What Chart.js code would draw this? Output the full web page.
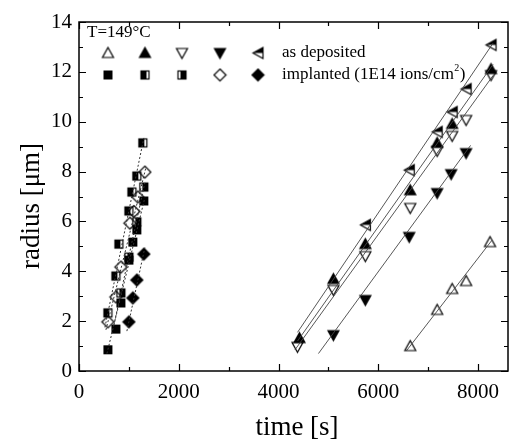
<!DOCTYPE html>
<html>
<head>
<meta charset="utf-8">
<script src="https://cdn.jsdelivr.net/npm/chart.js@4"></script>
<style>
html, body { margin: 0; background: #fff; }
#wrap { width: 509px; height: 446px; }
</style>
</head>
<body>
<div id="wrap"><canvas id="chart"></canvas></div>
<script>
// ==================== Data ====================
// as deposited
const depTriUpX = [6640, 7180, 7480, 7760, 8240];
const depTriUpY = [1.0, 2.45, 3.29, 3.61, 5.17];
const depTriUpFillX = [4420, 5100, 5740, 6640, 7180, 7480, 8260];
const depTriUpFillY = [1.32, 3.69, 5.09, 7.25, 9.15, 9.91, 12.11];
const depTriDownX = [4380, 5100, 5740, 6640, 7180, 7480, 7760, 8260];
const depTriDownY = [0.97, 3.25, 4.61, 6.54, 8.83, 9.43, 10.07, 11.87];
const depTriDownFillX = [5100, 5740, 6620, 7180, 7460, 7760];
const depTriDownFillY = [1.44, 2.85, 5.38, 7.14, 7.9, 8.74];
const depTriLeftX = [5740, 6620, 7180, 7480, 7760, 8260];
const depTriLeftY = [5.86, 8.06, 9.59, 10.39, 11.31, 13.08];

// implanted (1E14 ions/cm2)
const impSqX = [580, 740, 840, 1000, 1080, 1160, 1300];
const impSqY = [0.85, 1.68, 2.73, 4.45, 5.17, 5.66, 6.82];
const impHalfAX = [580, 740, 800, 1000, 1060, 1160, 1280];
const impHalfAY = [2.33, 3.81, 5.09, 6.42, 7.18, 7.82, 9.15];
const impHalfBX = [840, 1000, 1160, 1300];
const impHalfBY = [3.13, 4.57, 5.98, 7.38];
const impDiaX = [580, 740, 840, 1020, 1100, 1180, 1320];
const impDiaY = [1.97, 2.97, 4.17, 5.93, 6.4, 6.98, 7.98];
const impDiaFillX = [1000, 1080, 1160, 1300];
const impDiaFillY = [1.97, 2.93, 3.65, 4.69];

// fit lines (end points)
const fitTriUpX = [6560, 8280], fitTriUpY = [0.8, 5.25];
const fitTriUpFillX = [4380, 8300], fitTriUpFillY = [1.2, 12.3];
const fitTriDownX = [4330, 8300], fitTriDownY = [0.85, 11.85];
const fitTriDownFillX = [4800, 7850], fitTriDownFillY = [0.7, 9.05];
const fitTriLeftX = [4380, 8300], fitTriLeftY = [1.55, 13.15];
const fitSqX = [560, 1320], fitSqY = [0.7, 6.95];
const fitHalfAX = [520, 1300], fitHalfAY = [1.75, 9.35];
const fitHalfBX = [700, 1320], fitHalfBY = [1.85, 7.55];
const fitDiaX = [540, 1340], fitDiaY = [1.65, 8.15];
const fitDiaFillX = [960, 1320], fitDiaFillY = [1.6, 4.95];

const xTicks = [0, 2000, 4000, 6000, 8000];
const yTicks = [0, 2, 4, 6, 8, 10, 12, 14];

const FONT = '"Liberation Serif", "Times New Roman", serif';

// ==================== Markers ====================
function makeMarker(kind) {
    const s = 15, c = document.createElement('canvas');
    c.width = s; c.height = s;
    const g = c.getContext('2d');
    const m = 7.5;
    g.lineWidth = 1.2;
    g.strokeStyle = '#000';
    g.fillStyle = '#000';
    const poly = pts => { g.beginPath(); pts.forEach((p, i) => i ? g.lineTo(p[0], p[1]) : g.moveTo(p[0], p[1])); g.closePath(); };
    if (kind === 'triUp' || kind === 'triUpFill') {
        poly([[m, 2], [m + 5.5, 12], [m - 5.5, 12]]);
        if (kind === 'triUpFill') g.fill();
        g.stroke();
    } else if (kind === 'triDown' || kind === 'triDownFill') {
        poly([[m, 13], [m + 5.5, 3], [m - 5.5, 3]]);
        if (kind === 'triDownFill') g.fill();
        g.stroke();
    } else if (kind === 'triLeft') {
        poly([[2.5, m], [12.5, m - 5.5], [12.5, m]]);
        g.fill();
        poly([[2.5, m], [12.5, m - 5.5], [12.5, m + 5.5]]);
        g.stroke();
    } else if (kind === 'sq') {
        g.fillRect(3, 3, 9, 9);
    } else if (kind === 'sqHalfA') {
        g.fillRect(3, 3, 6, 9);
        g.strokeRect(3.5, 3.5, 8, 8);
    } else if (kind === 'sqHalfB') {
        g.fillRect(6, 3, 6, 9);
        g.strokeRect(3.5, 3.5, 8, 8);
    } else if (kind === 'dia' || kind === 'diaFill') {
        poly([[m, 1.5], [m + 6, m], [m, 13.5], [m - 6, m]]);
        if (kind === 'diaFill') g.fill();
        g.stroke();
    }
    return c;
}

const markers = {};
['triUp', 'triUpFill', 'triDown', 'triDownFill', 'triLeft', 'sq', 'sqHalfA', 'sqHalfB', 'dia', 'diaFill']
    .forEach(k => { markers[k] = makeMarker(k); });

function toPoints(xs, ys) {
    return xs.map((x, i) => ({ x, y: ys[i] }));
}

function pointSet(xs, ys, kind) {
    return {
        data: toPoints(xs, ys),
        pointStyle: markers[kind],
        pointRadius: 7,
        showLine: false
    };
}

function fitSet(xs, ys, dashed) {
    return {
        data: toPoints(xs, ys),
        showLine: true,
        pointRadius: 0,
        borderColor: dashed ? '#333' : '#444',
        borderWidth: dashed ? 1 : 0.9,
        borderDash: dashed ? [2, 2] : [],
        fill: false
    };
}

const datasets = [
    fitSet(fitTriUpX, fitTriUpY), fitSet(fitTriUpFillX, fitTriUpFillY),
    fitSet(fitTriDownX, fitTriDownY), fitSet(fitTriDownFillX, fitTriDownFillY),
    fitSet(fitTriLeftX, fitTriLeftY),
    fitSet(fitSqX, fitSqY, true), fitSet(fitHalfAX, fitHalfAY, true),
    fitSet(fitHalfBX, fitHalfBY, true), fitSet(fitDiaX, fitDiaY, true),
    fitSet(fitDiaFillX, fitDiaFillY, true),
    pointSet(depTriUpX, depTriUpY, 'triUp'),
    pointSet(depTriUpFillX, depTriUpFillY, 'triUpFill'),
    pointSet(depTriDownX, depTriDownY, 'triDown'),
    pointSet(depTriDownFillX, depTriDownFillY, 'triDownFill'),
    pointSet(depTriLeftX, depTriLeftY, 'triLeft'),
    pointSet(impSqX, impSqY, 'sq'),
    pointSet(impHalfAX, impHalfAY, 'sqHalfA'),
    pointSet(impHalfBX, impHalfBY, 'sqHalfB'),
    pointSet(impDiaX, impDiaY, 'dia'),
    pointSet(impDiaFillX, impDiaFillY, 'diaFill')
];

// ==================== Decorations ====================
const framePlugin = {
    id: 'frame',
    afterDraw(chart) {
        const { ctx, chartArea: a, scales } = chart;
        const xs = scales.x, ys = scales.y;
        ctx.save();
        ctx.strokeStyle = '#000';
        ctx.lineWidth = 1.5;
        ctx.strokeRect(a.left, a.top, a.right - a.left, a.bottom - a.top);

        // inward ticks, major + minor
        ctx.lineWidth = 1.2;
        ctx.beginPath();
        for (let v = 0; v <= 8000; v += 1000) {
            const px = Math.round(xs.getPixelForValue(v)) + 0.5;
            const len = v % 2000 === 0 ? 7 : 4;
            ctx.moveTo(px, a.bottom); ctx.lineTo(px, a.bottom - len);
            ctx.moveTo(px, a.top); ctx.lineTo(px, a.top + len);
        }
        for (let v = 0; v <= 14; v += 1) {
            const py = Math.round(ys.getPixelForValue(v)) + 0.5;
            const len = v % 2 === 0 ? 7 : 4;
            ctx.moveTo(a.left, py); ctx.lineTo(a.left + len, py);
            ctx.moveTo(a.right, py); ctx.lineTo(a.right - len, py);
        }
        ctx.stroke();

        // annotation + legend
        ctx.fillStyle = '#000';
        ctx.textBaseline = 'middle';
        ctx.textAlign = 'left';
        ctx.font = '17px ' + FONT;
        ctx.fillText('T=149\u00B0C', 87, 33);

        const legX = [108, 145, 182, 220, 258];
        const row1 = ['triUp', 'triUpFill', 'triDown', 'triDownFill', 'triLeft'];
        const row2 = ['sq', 'sqHalfA', 'sqHalfB', 'dia', 'diaFill'];
        row1.forEach((k, i) => ctx.drawImage(markers[k], legX[i] - 7.5, 53 - 7.5));
        row2.forEach((k, i) => ctx.drawImage(markers[k], legX[i] - 7.5, 75 - 7.5));
        ctx.fillText('as deposited', 282, 53);
        const t1 = 'implanted (1E14 ions/cm';
        ctx.fillText(t1, 282, 75);
        const w1 = ctx.measureText(t1).width;
        ctx.font = '10px ' + FONT;
        ctx.fillText('2', 282 + w1 + 0.5, 68);
        ctx.font = '17px ' + FONT;
        ctx.fillText(')', 282 + w1 + 6, 75);

        // axis titles
        ctx.font = '27px ' + FONT;
        ctx.textAlign = 'center';
        ctx.fillText('time [s]', 297, 428);
        ctx.translate(32, 206);
        ctx.rotate(-Math.PI / 2);
        ctx.fillText('radius [\u03BCm]', 0, 0);
        ctx.restore();
    }
};

new Chart(document.getElementById('chart'), {
    type: 'scatter',
    data: { datasets },
    options: {
        responsive: true,
        maintainAspectRatio: false,
        animation: false,
        layout: { autoPadding: false, padding: { left: 0, right: 1, top: 22, bottom: 0 } },
        plugins: { legend: { display: false }, tooltip: { enabled: false } },
        scales: {
            x: {
                type: 'linear',
                min: 0,
                max: 8600,
                afterFit: s => { s.height = 75; s.paddingLeft = 0; s.paddingRight = 0; },
                afterBuildTicks: s => { s.ticks = xTicks.map(v => ({ value: v })); },
                grid: { display: false, drawTicks: false },
                border: { display: false },
                ticks: { color: '#000', padding: 9, font: { family: FONT, size: 21 }, maxRotation: 0, callback: v => String(v) }
            },
            y: {
                type: 'linear',
                min: 0,
                max: 14,
                afterFit: s => { s.width = 79; s.paddingTop = 0; s.paddingBottom = 0; },
                afterBuildTicks: s => { s.ticks = yTicks.map(v => ({ value: v })); },
                grid: { display: false, drawTicks: false },
                border: { display: false },
                ticks: { color: '#000', padding: 7, font: { family: FONT, size: 21 }, callback: v => String(v) }
            }
        }
    },
    plugins: [framePlugin]
});
</script>
</body>
</html>
